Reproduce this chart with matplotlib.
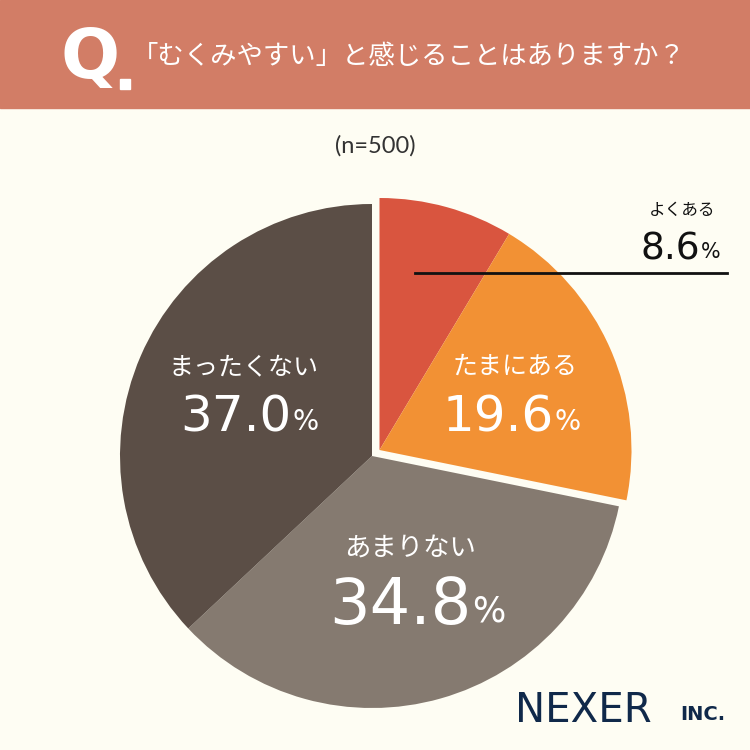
import matplotlib.pyplot as plt
from matplotlib.patches import Rectangle

plt.rcParams['font.family'] = ['Noto Sans CJK JP', 'DejaVu Sans']

# data
labels = ['よくある', 'たまにある', 'あまりない', 'まったくない']
values = [8.6, 19.6, 34.8, 37.0]
colors = ['#D9553F', '#F29134', '#857A70', '#5B4E46']
title = '「むくみやすい」と感じることはありますか？'
n_text = '(n=500)'

BG = '#FEFDF3'
HEAD = '#D27D66'
NUMFONT = ['DejaVu Sans']

fig = plt.figure(figsize=(7.5, 7.5), dpi=100, facecolor=BG)
ax = fig.add_axes([0, 0, 1, 1])
ax.set_facecolor(BG)

# header band
ax.add_patch(Rectangle((0, 750 - 108), 750, 108, color=HEAD, zorder=1))
ax.text(90, 750 - 58, 'Q', color='white', fontsize=50, fontweight='bold',
        family=['Liberation Sans Narrow', 'DejaVu Sans'], ha='center', va='center', zorder=2)
ax.add_patch(Rectangle((120, 750 - 89), 10, 10, color='white', zorder=2))
ax.text(132, 750 - 57, title, color='white', fontsize=19, ha='left', va='center', zorder=2)

ax.text(375, 750 - 146, n_text, color='#333333', fontsize=17, ha='center',
        va='center', family=['Lato'])

# pie
cx, cy, r = 372, 750 - 456, 252
wedges, _ = ax.pie(values, colors=colors, startangle=90, counterclock=False,
                   center=(cx, cy), radius=r, frame=True)
ax.set_xlim(0, 750)
ax.set_ylim(0, 750)
ax.set_aspect('equal')
ax.axis('off')
# pull the first two slices out together
for w in wedges[:2]:
    w.set_center((cx + 7.5, cy + 6))


def pct_label(cx_lab, y_name, split, y_num, name, val, size, name_size, color):
    ax.text(cx_lab, y_name, name, color=color, fontsize=name_size,
            ha='center', va='center')
    ax.text(split, y_num, f'{val:.1f}', color=color, fontsize=size, ha='right',
            va='center', family=NUMFONT)
    ax.text(split + 1, y_num - size * 0.12, '%', color=color, fontsize=size * 0.55,
            ha='left', va='center', family=NUMFONT)


# labels inside (image px converted to y-up)
pct_label(515, 750 - 367, 554, 750 - 418, labels[1], values[1], 36, 18, 'white')
pct_label(410, 750 - 548, 471, 750 - 606, labels[2], values[2], 46, 19, 'white')
pct_label(243, 750 - 367, 291, 750 - 418, labels[3], values[3], 36, 18, 'white')

# よくある outside label
pct_label(682, 750 - 210, 700, 750 - 249, labels[0], values[0], 27, 12, '#111111')
ax.plot([415, 727], [750 - 273, 750 - 273], color='#111111', lw=2)

# logo
ax.text(515, 750 - 711, 'NEXER', color='#10294A', fontsize=29, ha='left', va='center',
        family=['DejaVu Sans'])
ax.text(725, 750 - 715, 'INC.', color='#10294A', fontsize=14, fontweight='bold',
        ha='right', va='center', family=['DejaVu Sans'])

fig.savefig('out.png', dpi=100, facecolor=BG)
